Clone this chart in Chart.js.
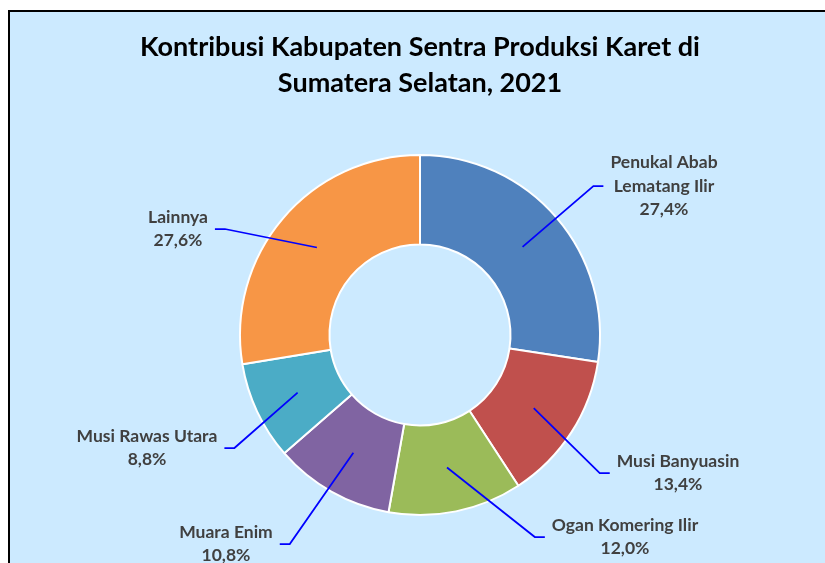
<!doctype html>
<html>
<head>
  <title>Kontribusi Kabupaten Sentra Produksi Karet</title>
  <script src="https://cdn.jsdelivr.net/npm/chart.js@4"></script>
  <style>
    body { margin: 0; background: #fff; }
  </style>
</head>
<body>
  <canvas id="chart" width="825" height="563"></canvas>
  <script>
    const regions = [['Penukal Abab', 'Lematang Ilir'], 'Musi Banyuasin', 'Ogan Komering Ilir', 'Muara Enim', 'Musi Rawas Utara', 'Lainnya'];
    const shares = [27.4, 13.4, 12.0, 10.8, 8.8, 27.6];
    const sliceColors = ['#4f81bd', '#c0504d', '#9bbb59', '#8064a2', '#4bacc6', '#f79646'];
    const titleLines = ['Kontribusi Kabupaten Sentra Produksi Karet di', 'Sumatera Selatan, 2021'];

    // where each label box sits, measured from the centre of the doughnut
    const labelSpots = [[244, -149], [258, 138], [205, 202], [-194, 209], [-273, 113], [-242, -106]];

    const frame = {
      id: 'frame',
      beforeDraw(chart) {
        const ctx = chart.ctx;
        const cx = (chart.chartArea.left + chart.chartArea.right) / 2;
        ctx.save();
        ctx.fillStyle = '#fff';
        ctx.fillRect(0, 0, chart.width, chart.height);
        ctx.fillStyle = '#cceaff';
        ctx.fillRect(9, 11, chart.width, chart.height);
        ctx.strokeStyle = '#000';
        ctx.lineWidth = 2;
        ctx.beginPath();
        ctx.moveTo(9, chart.height);
        ctx.lineTo(9, 11);
        ctx.lineTo(chart.width, 11);
        ctx.stroke();

        ctx.fillStyle = '#000';
        ctx.font = 'bold 27px Lato';
        ctx.textAlign = 'center';
        ctx.textBaseline = 'middle';
        titleLines.forEach((t, i) => ctx.fillText(t, cx, 47 + i * 36));
        ctx.restore();
      }
    };

    const calloutLabels = {
      id: 'calloutLabels',
      afterDraw(chart) {
        const ctx = chart.ctx;
        const meta = chart.getDatasetMeta(0);
        ctx.save();
        ctx.font = 'bold 17.5px Lato';
        ctx.textAlign = 'center';
        ctx.textBaseline = 'middle';
        meta.data.forEach((arc, i) => {
          const p = arc.getProps(['x', 'y', 'startAngle', 'endAngle', 'innerRadius', 'outerRadius'], true);
          const mid = (p.startAngle + p.endAngle) / 2;
          const r = (p.innerRadius + p.outerRadius) / 2;
          const px = p.x + Math.cos(mid) * r;
          const py = p.y + Math.sin(mid) * r;

          const lines = [].concat(chart.data.labels[i], shares[i].toFixed(1).replace('.', ',') + '%');
          const w = Math.max(...lines.map(l => ctx.measureText(l).width));
          const lx = p.x + labelSpots[i][0];
          const ly = p.y + labelSpots[i][1];
          const side = lx > p.x ? -1 : 1;
          const endX = lx + side * (w / 2 + 7);
          const elbowX = endX + side * 10;

          ctx.strokeStyle = '#0000ff';
          ctx.lineWidth = 1.75;
          ctx.beginPath();
          ctx.moveTo(px, py);
          ctx.lineTo(elbowX, ly);
          ctx.lineTo(endX, ly);
          ctx.stroke();

          ctx.fillStyle = '#404040';
          lines.forEach((l, j) => ctx.fillText(l, lx, ly + (j - (lines.length - 1) / 2) * 23.5));
        });
        ctx.restore();
      }
    };

    new Chart(document.getElementById('chart'), {
      type: 'doughnut',
      data: {
        labels: regions,
        datasets: [{
          data: shares,
          backgroundColor: sliceColors,
          borderColor: '#fff',
          borderWidth: 2
        }]
      },
      options: {
        responsive: false,
        animation: false,
        radius: 180,
        cutout: 90,
        layout: { padding: { left: 240, right: 225, top: 155, bottom: 48 } },
        plugins: {
          legend: { display: false },
          tooltip: { enabled: false },
          title: { display: false }
        }
      },
      plugins: [frame, calloutLabels]
    });
  </script>
</body>
</html>
